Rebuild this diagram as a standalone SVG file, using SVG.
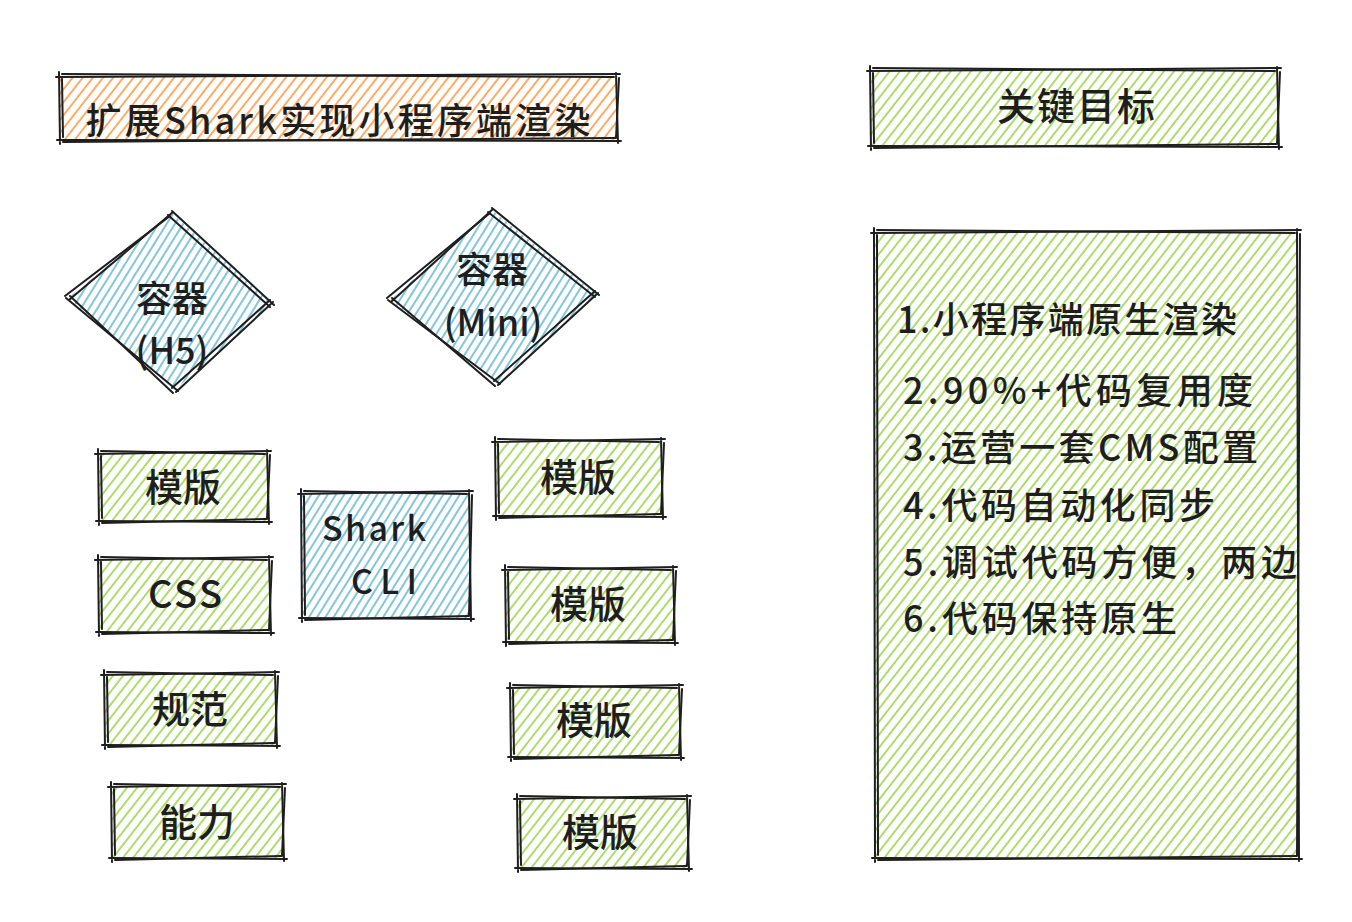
<svg xmlns="http://www.w3.org/2000/svg" width="1352" height="922" viewBox="0 0 1352 922">
<style>
.ol{fill:none;stroke:#1e1e1e;stroke-width:2;stroke-linecap:round;stroke-linejoin:round}
.t{font-family:"Noto Sans CJK SC","Noto Sans",sans-serif;font-weight:500;fill:#1e1e1e;text-anchor:middle;dominant-baseline:central}
.l{font-family:"Noto Sans CJK SC","Noto Sans",sans-serif;font-weight:500;fill:#1e1e1e;dominant-baseline:central;font-size:36px}
</style>
<defs>
<pattern id="hg" patternUnits="userSpaceOnUse" width="8" height="12" patternTransform="rotate(38)"><line x1="1" y1="0" x2="1" y2="12" stroke="#82c91e" stroke-width="1.3"/></pattern>
<pattern id="ho" patternUnits="userSpaceOnUse" width="8" height="12" patternTransform="rotate(38)"><line x1="1" y1="0" x2="1" y2="12" stroke="#fd7e14" stroke-width="1.3"/></pattern>
<pattern id="hb" patternUnits="userSpaceOnUse" width="7" height="12" patternTransform="rotate(32)"><line x1="1" y1="0" x2="1" y2="12" stroke="#3fa9c5" stroke-width="1.3"/></pattern>
</defs>
<rect width="1352" height="922" fill="#ffffff"/>
<g id="connectors"/>

<g id="title">
<rect x="60" y="76" width="557" height="64" fill="url(#ho)"/>
<path class="ol" d="M56,77 L620,74 M616,73 L618,143 M621,141 L57,140 M60,144 L59,72"/>
<path class="ol" d="M62,74 L614,77 M619,78 L616,138 M615,138 L63,142 M63,137 L62,79"/>
<text class="t" x="338" y="118" font-size="36" textLength="505" lengthAdjust="spacing">扩展Shark实现小程序端渲染</text>
</g>

<g id="goal-title">
<rect x="871" y="70" width="407" height="76" fill="url(#hg)"/>
<path class="ol" d="M867,71 L1281,68 M1277,67 L1279,149 M1282,147 L868,146 M871,150 L870,66"/>
<path class="ol" d="M873,68 L1275,71 M1280,72 L1277,144 M1276,144 L874,148 M874,143 L873,73"/>
<text class="t" x="1076" y="103" font-size="38" textLength="158" lengthAdjust="spacing">关键目标</text>
</g>

<g id="goals">
<rect x="875" y="232" width="423" height="626" fill="url(#hg)"/>
<path class="ol" d="M871,233 L1301,230 M1297,229 L1299,861 M1302,859 L872,858 M875,862 L874,228"/>
<path class="ol" d="M877,230 L1295,233 M1300,234 L1297,856 M1296,856 L878,860 M878,855 L877,235"/>
<text class="l" x="897" y="317" textLength="340" lengthAdjust="spacing">1.小程序端原生渲染</text>
<text class="l" x="903" y="388" textLength="350" lengthAdjust="spacing">2.90%+代码复用度</text>
<text class="l" x="903" y="445" textLength="355" lengthAdjust="spacing">3.运营一套CMS配置</text>
<text class="l" x="903" y="503" textLength="312" lengthAdjust="spacing">4.代码自动化同步</text>
<text class="l" x="903" y="560" textLength="394" lengthAdjust="spacing">5.调试代码方便，两边</text>
<text class="l" x="903" y="616" textLength="274" lengthAdjust="spacing">6.代码保持原生</text>
</g>

<g id="container-h5">
<polygon points="172,213 272,304 175,390 68,298" fill="url(#hb)"/>
<path class="ol" d="M172,211 L274,305 M273,302 L176,392 M178,391 L66,298 M69,300 L173,212"/>
<path class="ol" d="M168,215 L270,307 M270,300 L172,388 M173,393 L70,296 M65,296 L170,216"/>
<text class="t" x="172" y="296" font-size="36">容器</text>
<text class="t" x="172" y="348" font-size="36">(H5)</text>
</g>

<g id="container-mini">
<polygon points="492,210 597,295 497,383 390,300" fill="url(#hb)"/>
<path class="ol" d="M492,208 L599,295 M598,293 L498,385 M500,384 L388,300 M391,302 L493,209"/>
<path class="ol" d="M488,212 L595,297 M595,291 L494,381 M495,386 L392,298 M387,298 L490,213"/>
<text class="t" x="492" y="267" font-size="36">容器</text>
<text class="t" x="493" y="320" font-size="36">(Mini)</text>
</g>

<g id="left-template">
<rect x="99" y="453" width="169" height="68" fill="url(#hg)"/>
<path class="ol" d="M95,454 L271,451 M267,450 L269,524 M272,522 L96,521 M99,525 L98,449"/>
<path class="ol" d="M101,451 L265,454 M270,455 L267,519 M266,519 L102,523 M102,518 L101,456"/>
<text class="t" x="183" y="484" font-size="38">模版</text>
</g>

<g id="left-css">
<rect x="99" y="559" width="171" height="73" fill="url(#hg)"/>
<path class="ol" d="M95,560 L273,557 M269,556 L271,635 M274,633 L96,632 M99,636 L98,555"/>
<path class="ol" d="M101,557 L267,560 M272,561 L269,630 M268,630 L102,634 M102,629 L101,562"/>
<text class="t" x="185" y="591" font-size="38" textLength="74" lengthAdjust="spacing">CSS</text>
</g>

<g id="left-spec">
<rect x="105" y="674" width="171" height="71" fill="url(#hg)"/>
<path class="ol" d="M101,675 L279,672 M275,671 L277,748 M280,746 L102,745 M105,749 L104,670"/>
<path class="ol" d="M107,672 L273,675 M278,676 L275,743 M274,743 L108,747 M108,742 L107,677"/>
<text class="t" x="190" y="706" font-size="38">规范</text>
</g>

<g id="left-ability">
<rect x="112" y="786" width="171" height="72" fill="url(#hg)"/>
<path class="ol" d="M108,787 L286,784 M282,783 L284,861 M287,859 L109,858 M112,862 L111,782"/>
<path class="ol" d="M114,784 L280,787 M285,788 L282,856 M281,856 L115,860 M115,855 L114,789"/>
<text class="t" x="197" y="819" font-size="38">能力</text>
</g>

<g id="shark-cli">
<rect x="302" y="493" width="168" height="125" fill="url(#hb)"/>
<path class="ol" d="M298,494 L473,491 M469,490 L471,621 M474,619 L299,618 M302,622 L301,489"/>
<path class="ol" d="M304,491 L467,494 M472,495 L469,616 M468,616 L305,620 M305,615 L304,496"/>
<text class="t" x="374" y="526" font-size="34" textLength="104" lengthAdjust="spacing">Shark</text>
<text class="t" x="384" y="579" font-size="34" textLength="66" lengthAdjust="spacing">CLI</text>
</g>

<g id="right-template-1">
<rect x="496" y="441" width="166" height="75" fill="url(#hg)"/>
<path class="ol" d="M492,442 L665,439 M661,438 L663,519 M666,517 L493,516 M496,520 L495,437"/>
<path class="ol" d="M498,439 L659,442 M664,443 L661,514 M660,514 L499,518 M499,513 L498,444"/>
<text class="t" x="578" y="474" font-size="38">模版</text>
</g>

<g id="right-template-2">
<rect x="506" y="569" width="168" height="73" fill="url(#hg)"/>
<path class="ol" d="M502,570 L677,567 M673,566 L675,645 M678,643 L503,642 M506,646 L505,565"/>
<path class="ol" d="M508,567 L671,570 M676,571 L673,640 M672,640 L509,644 M509,639 L508,572"/>
<text class="t" x="588" y="601" font-size="38">模版</text>
</g>

<g id="right-template-3">
<rect x="511" y="687" width="169" height="70" fill="url(#hg)"/>
<path class="ol" d="M507,688 L683,685 M679,684 L681,760 M684,758 L508,757 M511,761 L510,683"/>
<path class="ol" d="M513,685 L677,688 M682,689 L679,755 M678,755 L514,759 M514,754 L513,690"/>
<text class="t" x="594" y="717" font-size="38">模版</text>
</g>

<g id="right-template-4">
<rect x="518" y="798" width="170" height="70" fill="url(#hg)"/>
<path class="ol" d="M514,799 L691,796 M687,795 L689,871 M692,869 L515,868 M518,872 L517,794"/>
<path class="ol" d="M520,796 L685,799 M690,800 L687,866 M686,866 L521,870 M521,865 L520,801"/>
<text class="t" x="600" y="829" font-size="38">模版</text>
</g>
</svg>
